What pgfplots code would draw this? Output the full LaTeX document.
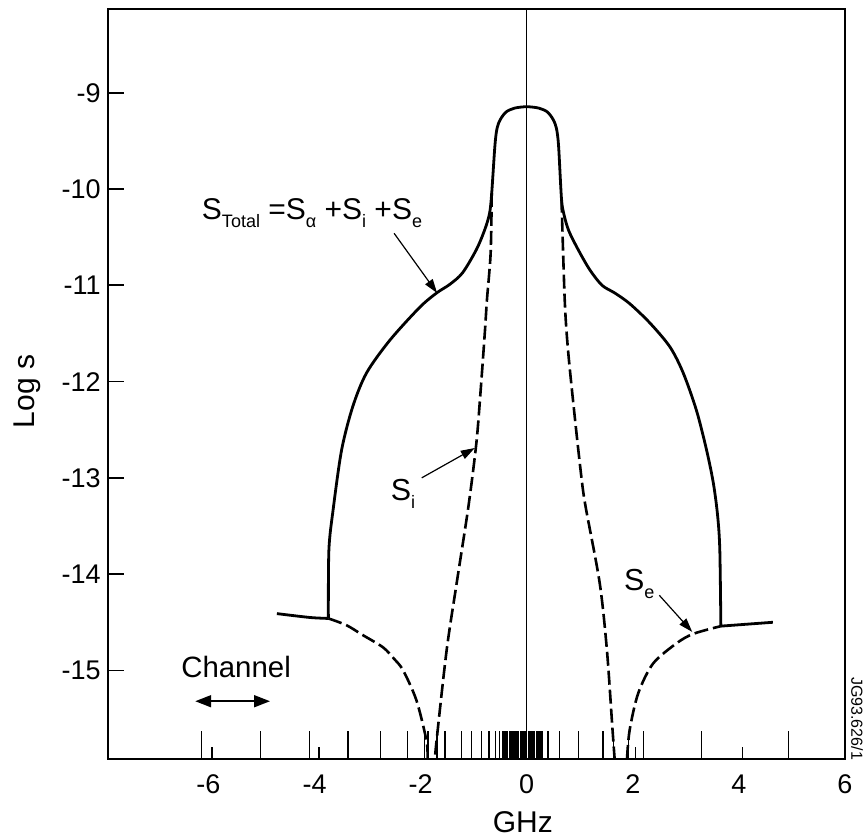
\documentclass[border=0pt]{standalone}
\usepackage{fontspec}
\setmainfont{Liberation Sans}
\usepackage{pgfplots}
\pgfplotsset{compat=1.18}
\usetikzlibrary{arrows.meta}
\newcommand\sbs[1]{\raisebox{-4pt}{\fontsize{9}{10}\selectfont #1}}

\begin{document}
\begin{tikzpicture}
\useasboundingbox (-53.85pt,-40.5pt) rectangle (377.65pt,379.5pt);
\begin{axis}[
  at={(0,0)}, anchor=south west,
  scale only axis, width=368.65pt, height=375pt,
  xmin=-7.9, xmax=6, ymin=-15.92, ymax=-8.13,
  xtick={-6,-4,...,6}, ytick={-15,-14,...,-9},
  xtick style={draw=none}, ytick style={line width=0.9pt, black},
  major tick length=8pt, tick align=inside, ytick pos=left, xtick pos=bottom,
  axis line style={line width=1pt},
  ticklabel style={font=\fontsize{13.5}{15}\selectfont},
  xticklabel style={yshift=-4.5pt},
  /pgf/number format/assume math mode=true,
  xlabel={GHz}, ylabel={Log s},
  label style={font=\fontsize{15}{17}\selectfont},
  xlabel style={at={(axis description cs:0.563,0)}, anchor=center, yshift=-31.5pt},
  ylabel style={at={(axis description cs:-0.1095,0.49)}, anchor=center},
  clip=false, unbounded coords=jump,
]
% centre line
\addplot[black, line width=0.6pt] coordinates {(0,-15.92) (0,-8.13)};

% channel lines (tall) and axis ticks (short)
\addplot[black, line width=0.7pt] coordinates {
(-6.13,-15.92) (-6.13,-15.63) (-6.13,nan)
(-5.02,-15.92) (-5.02,-15.63) (-5.02,nan)
(-4.09,-15.92) (-4.09,-15.63) (-4.09,nan)
(-3.37,-15.92) (-3.37,-15.63) (-3.37,nan)
(-2.76,-15.92) (-2.76,-15.63) (-2.76,nan)
(-2.25,-15.92) (-2.25,-15.63) (-2.25,nan)
(-1.93,-15.92) (-1.93,-15.63) (-1.93,nan)
(-1.86,-15.92) (-1.86,-15.63) (-1.86,nan)
(-1.69,-15.92) (-1.69,-15.63) (-1.69,nan)
(-1.54,-15.92) (-1.54,-15.63) (-1.54,nan)
(-1.23,-15.92) (-1.23,-15.63) (-1.23,nan)
(-1.04,-15.92) (-1.04,-15.63) (-1.04,nan)
(-0.85,-15.92) (-0.85,-15.63) (-0.85,nan)
(-0.71,-15.92) (-0.71,-15.63) (-0.71,nan)
(-0.59,-15.92) (-0.59,-15.63) (-0.59,nan)
(-0.51,-15.92) (-0.51,-15.63) (-0.51,nan)
(-0.45,-15.92) (-0.45,-15.63) (-0.45,nan)
(-0.42,-15.92) (-0.42,-15.63) (-0.42,nan)
(-0.39,-15.92) (-0.39,-15.63) (-0.39,nan)
(-0.36,-15.92) (-0.36,-15.63) (-0.36,nan)
(-0.33,-15.92) (-0.33,-15.63) (-0.33,nan)
(-0.30,-15.92) (-0.30,-15.63) (-0.30,nan)
(-0.27,-15.92) (-0.27,-15.63) (-0.27,nan)
(-0.24,-15.92) (-0.24,-15.63) (-0.24,nan)
(-0.21,-15.92) (-0.21,-15.63) (-0.21,nan)
(-0.18,-15.92) (-0.18,-15.63) (-0.18,nan)
(-0.15,-15.92) (-0.15,-15.63) (-0.15,nan)
(-0.12,-15.92) (-0.12,-15.63) (-0.12,nan)
(-0.09,-15.92) (-0.09,-15.63) (-0.09,nan)
(-0.06,-15.92) (-0.06,-15.63) (-0.06,nan)
(-0.03,-15.92) (-0.03,-15.63) (-0.03,nan)
(0.03,-15.92) (0.03,-15.63) (0.03,nan)
(0.06,-15.92) (0.06,-15.63) (0.06,nan)
(0.09,-15.92) (0.09,-15.63) (0.09,nan)
(0.12,-15.92) (0.12,-15.63) (0.12,nan)
(0.15,-15.92) (0.15,-15.63) (0.15,nan)
(0.18,-15.92) (0.18,-15.63) (0.18,nan)
(0.21,-15.92) (0.21,-15.63) (0.21,nan)
(0.24,-15.92) (0.24,-15.63) (0.24,nan)
(0.27,-15.92) (0.27,-15.63) (0.27,nan)
(0.30,-15.92) (0.30,-15.63) (0.30,nan)
(0.40,-15.92) (0.40,-15.63) (0.40,nan)
(0.62,-15.92) (0.62,-15.63) (0.62,nan)
(0.98,-15.92) (0.98,-15.63) (0.98,nan)
(1.44,-15.92) (1.44,-15.63) (1.44,nan)
(1.64,-15.92) (1.64,-15.63) (1.64,nan)
(1.92,-15.92) (1.92,-15.63) (1.92,nan)
(2.20,-15.92) (2.20,-15.63) (2.20,nan)
(3.29,-15.92) (3.29,-15.63) (3.29,nan)
(4.94,-15.92) (4.94,-15.63) (4.94,nan)
(-5.93,-15.92) (-5.93,-15.80) (-5.93,nan)
(-3.92,-15.92) (-3.92,-15.80) (-3.92,nan)
(2.05,-15.92) (2.05,-15.80) (2.05,nan)
(4.07,-15.92) (4.07,-15.80)
};

% S_Total
\addplot[black, line width=1.4pt, smooth, tension=0.5] coordinates {
(-3.74,-14.46) (-3.73,-13.75) (-3.65,-13.33) (-3.49,-12.71) (-3.28,-12.26)
(-3.02,-11.91) (-2.58,-11.57) (-2.02,-11.23) (-1.70,-11.08) (-1.45,-10.99)
(-1.21,-10.87) (-0.95,-10.63) (-0.79,-10.42) (-0.70,-10.25) (-0.66,-10.04)
(-0.60,-9.55) (-0.56,-9.37) (-0.50,-9.28) (-0.39,-9.20) (-0.23,-9.16) (0,-9.145)
(0.23,-9.16) (0.39,-9.20) (0.50,-9.28) (0.56,-9.37) (0.60,-9.55)
(0.655,-10.1) (0.70,-10.26) (0.79,-10.43) (0.97,-10.63)
(1.19,-10.84) (1.42,-11.0) (1.66,-11.08) (1.94,-11.19) (2.32,-11.39)
(2.70,-11.64) (2.95,-11.91) (3.20,-12.30) (3.39,-12.71) (3.52,-13.06)
(3.60,-13.40) (3.64,-13.75) (3.66,-14.54)};
% S_e, solid outer parts
\addplot[black, line width=1.4pt, smooth] coordinates {(-4.71,-14.41) (-4.09,-14.45) (-3.74,-14.46)};
\addplot[black, line width=1.4pt, smooth] coordinates {(3.66,-14.54) (4.64,-14.50)};

% S_i dashed
\addplot[black, line width=1.3pt, dash pattern=on 7pt off 2.5pt, smooth, tension=0.5] coordinates {
(-0.66,-10.04) (-0.68,-10.66) (-0.75,-11.15) (-0.79,-11.49) (-0.87,-12.1)
(-0.95,-12.64) (-1.10,-13.3) (-1.32,-14.09) (-1.51,-14.79) (-1.70,-15.73) (-1.73,-15.92)};
\addplot[black, line width=1.3pt, dash pattern=on 7pt off 2.5pt, smooth, tension=0.5] coordinates {
(0.655,-10.1) (0.716,-11.15) (0.778,-11.67) (0.904,-12.36) (1.03,-12.99)
(1.11,-13.3) (1.375,-14.09) (1.512,-14.79) (1.614,-15.59) (1.657,-15.92)};
% S_e dashed
\addplot[black, line width=1.3pt, dash pattern=on 7pt off 2.5pt, smooth, tension=0.5] coordinates {
(-3.74,-14.46) (-3.40,-14.53) (-3.10,-14.63) (-2.71,-14.76) (-2.50,-14.88)
(-2.33,-15.0) (-2.08,-15.31) (-1.89,-15.73) (-1.87,-15.92)};
\addplot[black, line width=1.3pt, dash pattern=on 7pt off 2.5pt, smooth, tension=0.5] coordinates {
(1.89,-15.92) (1.94,-15.62) (2.10,-15.24) (2.38,-14.93) (2.82,-14.72)
(3.14,-14.62) (3.66,-14.54)};

% annotations
\node[anchor=base west, inner sep=0pt, font=\fontsize{15}{17}\selectfont]
  at (axis cs:-6.13,-10.32) {S\sbs{Total} =S\sbs{α} +S\sbs{i} +S\sbs{e}};
\draw[-{Triangle[length=7pt,width=4.5pt]}, line width=0.6pt]
  (axis cs:-2.50,-10.46) -- (axis cs:-1.69,-11.08);
\node[anchor=base west, inner sep=0pt, font=\fontsize{15.2}{17}\selectfont]
  at (axis cs:-2.57,-13.23) {S\sbs{i}};
\draw[-{Triangle[length=7pt,width=4.5pt]}, line width=0.6pt]
  (axis cs:-1.98,-13.00) -- (axis cs:-0.98,-12.69);
\node[anchor=base west, inner sep=0pt, font=\fontsize{15.2}{17}\selectfont]
  at (axis cs:1.83,-14.17) {S\sbs{e}};
\draw[-{Triangle[length=7pt,width=4.5pt]}, line width=0.6pt]
  (axis cs:2.50,-14.22) -- (axis cs:3.12,-14.60);
\node[anchor=base west, inner sep=0pt, font=\fontsize{14.7}{17}\selectfont]
  at (axis cs:-6.52,-15.07) {Channel};
\draw[{Triangle[length=8pt,width=6pt]}-{Triangle[length=8pt,width=6pt]}, line width=0.9pt]
  (axis cs:-6.25,-15.32) -- (axis cs:-4.84,-15.32);
\node[rotate=-90, inner sep=0pt, font=\fontsize{8}{9}\selectfont]
  at (axis cs:6.23,-15.5) {JG93.626/1};
\end{axis}
\end{tikzpicture}
\end{document}
